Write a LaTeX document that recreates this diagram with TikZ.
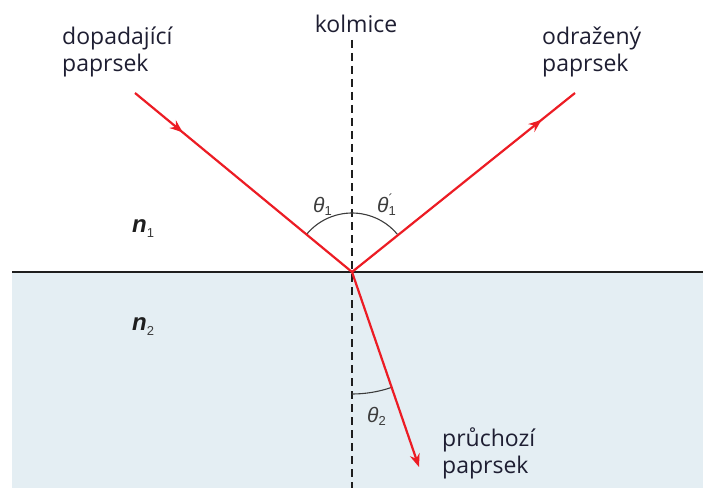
\documentclass[tikz,border=0pt]{standalone}
\usepackage{fontspec}
\setmainfont{Open Sans}
\newfontfamily\nfont{Liberation Sans}
\usetikzlibrary{arrows.meta,decorations.markings}
\definecolor{raycol}{RGB}{236,28,36}
\definecolor{txt}{RGB}{30,30,50}
\definecolor{glass}{RGB}{228,238,243}
\definecolor{linecol}{RGB}{30,30,30}
\definecolor{arccol}{RGB}{60,60,60}
\newcommand{\subn}[1]{\raisebox{-5pt}{\fontsize{13}{13}\selectfont\mdseries\upshape\color{arccol}#1}}
\newcommand{\subt}[1]{\raisebox{-3pt}{\fontsize{13}{13}\selectfont\upshape #1}}
\begin{document}
\begin{tikzpicture}[x=1pt,y=1pt,
  >={Stealth[length=13pt,width=10pt]},
  rayline/.style={draw=raycol,line width=2.2pt},
  lbl/.style={text=txt,font=\fontsize{23}{27}\selectfont,align=left,anchor=north west,inner sep=0pt},
  idx/.style={text=linecol,font=\nfont\fontsize{24}{24}\selectfont\bfseries\itshape,anchor=base west,inner sep=0pt},
  ang/.style={text=arccol,font=\nfont\fontsize{21}{21}\selectfont\itshape,anchor=base west,inner sep=0pt},
  anglearc/.style={draw=arccol,line width=1.1pt}
]
\useasboundingbox (0,0) rectangle (703,488);
\fill[glass] (12,0) rectangle (703,216);
\coordinate (L) at (12,216);
\coordinate (R) at (703,216);
\draw[linecol,line width=2pt] (L) -- (R);
\coordinate (O) at (352,216);
\coordinate (A) at (135,395);
\coordinate (B) at (575,395);
\coordinate (C) at (419,21);
\coordinate (P1) at (352,448);
\coordinate (P2) at (352,0);
\draw[linecol,line width=2pt,dash pattern=on 8pt off 5pt] (P1) -- (P2);
\draw[anglearc] ([shift={(140.5:59)}]O) arc[start angle=140.5,end angle=39.5,radius=59];
\draw[anglearc] ([shift={(-90:122)}]O) arc[start angle=-90,end angle=-71,radius=122];
\draw[rayline,postaction={decorate},decoration={markings,mark=at position 0.22 with {\arrow{>}}}] (A) -- (O);
\draw[rayline,postaction={decorate},decoration={markings,mark=at position 0.85 with {\arrow{>}}}] (O) -- (B);
\draw[rayline,->] (O) -- (C);
\node[lbl] (inc) at (62,461) {dopadající\\paprsek};
\node[lbl] (refl) at (542,461) {odražený\\paprsek};
\node[lbl] (trans) at (442,60) {průchozí\\paprsek};
\node[text=txt,font=\fontsize{23}{27}\selectfont,anchor=base,inner sep=0pt] (kol) at (356,455) {kolmice};
\node[idx] (n1) at (132,256) {n\subn{1}};
\node[idx] (n2) at (132,158) {n\subn{2}};
\node[ang] (t1) at (313,276) {θ\subt{1}};
\node[ang] (t1p) at (377,276) {θ\rlap{\subt{1}}\raisebox{9pt}{\fontsize{13}{13}\selectfont\upshape ´}};
\node[ang] (t2) at (367,66) {θ\subt{2}};
\end{tikzpicture}
\end{document}
